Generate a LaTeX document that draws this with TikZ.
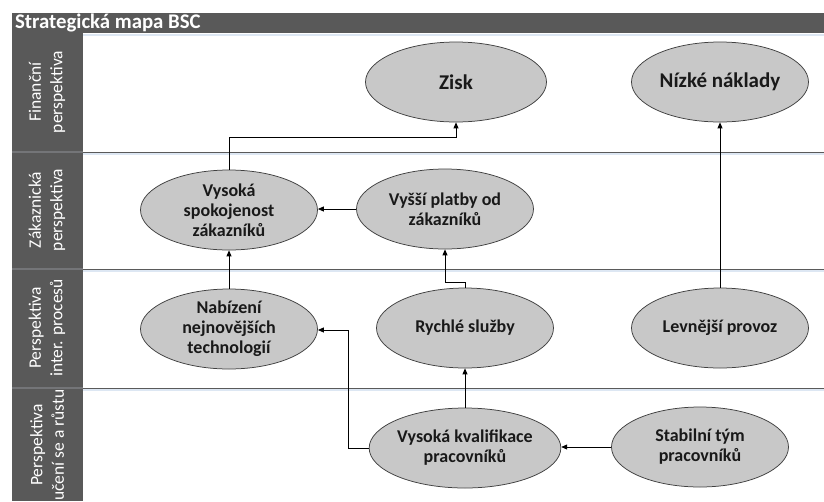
\documentclass[tikz,border=0pt]{standalone}
\usepackage{fontspec}
\setmainfont{Carlito}
\usetikzlibrary{shapes.geometric,arrows.meta,calc}
\definecolor{band}{HTML}{595959}
\definecolor{bubble}{HTML}{C8C8C8}
\definecolor{rim}{HTML}{404040}
\definecolor{glow}{HTML}{DDE7F3}
\definecolor{sep}{HTML}{5A5A5A}
\begin{document}
\begin{tikzpicture}[x=1pt,y=-1pt,
  goal/.style={ellipse,draw=rim,line width=0.75pt,fill=bubble,minimum width=177pt,
    minimum height=80pt,inner sep=0pt,align=center,
    font=\fontsize{18}{20}\selectfont\bfseries,text=black!90},
  biggoal/.style={goal,font=\fontsize{21}{24}\selectfont\bfseries},
  lanelabel/.style={rotate=90,align=center,text=white,
    font=\fontsize{17.5}{21.5}\selectfont},
  link/.style={draw=black,line width=0.8pt,-{Triangle[length=6pt,width=5pt]}},
  plain/.style={draw=black,line width=0.8pt}]
\useasboundingbox (0,0) rectangle (824,501);
\fill[white] (0,0) rectangle (824,501);

% header bar and side column
\fill[band] (12,13) rectangle (824,33);
\fill[band] (12,33) rectangle (83,501);
\node[anchor=west,text=white,font=\fontsize{20.8}{22}\selectfont\bfseries] (title) at (11.5,23) {Strategická mapa BSC};

% faint glow along the header and lane borders
\draw[glow,line width=2pt] (83,35) -- (824,35);
\foreach \yy in {152,269,388}{
  \draw[glow,line width=2pt] (83,\yy+2) -- (824,\yy+2);
  \draw[sep,line width=0.8pt] (83,\yy) -- (824,\yy);
  \draw[band!80!glow,line width=1.2pt] (12,\yy) -- (83,\yy);
}

% lane captions
\node[lanelabel] (l1) at (47,92) {Finanční\\perspektiva};
\node[lanelabel] (l2) at (47,210) {Zákaznická\\perspektiva};
\node[lanelabel] (l3) at (47,328) {Perspektiva\\inter. procesů};
\node[lanelabel] (l4) at (47,445) {Perspektiva\\učení se a růstu};

% objectives
\node[biggoal,minimum width=181pt] (zisk) at (456,82) {Zisk};
\node[biggoal] (nn) at (720,82) {Nízké náklady};
\node[goal] (vs) at (229,210) {Vysoká\\spokojenost\\zákazníků};
\node[goal] (vp) at (445,209) {Vyšší platby od\\zákazníků};
\node[goal] (nab) at (229,329) {Nabízení\\nejnovějších\\technologií};
\node[goal] (rs) at (465,328) {Rychlé služby};
\node[goal] (lp) at (720,328) {Levnější provoz};
\node[goal] (vk) at (465,448) {Vysoká kvalifikace\\pracovníků};
\node[goal] (st) at (700,447) {Stabilní tým\\pracovníků};

% cause and effect links
\draw[link] (vs.north) |- (456,137) -- (zisk.south);
\draw[link] (vp.west) -- (vs.east |- vp.west);
\draw[link] (nab.north) -- (vs.south);
\draw[link] (rs.north) |- (445,282) -- (vp.south);
\draw[link] (vk.north) -- (rs.south);
\draw[link] (vk.west) -| (348,330) -- (nab.east |- 0,330);
\draw[link] (st.west) -- (vk.east |- st.west);
\draw[link] (lp.north) -- (nn.south);
\end{tikzpicture}
\end{document}
